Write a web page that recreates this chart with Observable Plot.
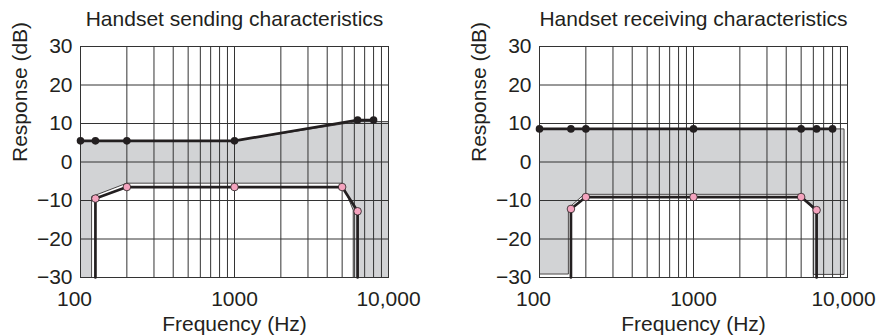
<!DOCTYPE html>
<html><head><meta charset="utf-8">
<script src="https://cdn.jsdelivr.net/npm/d3@7"></script>
<script src="https://cdn.jsdelivr.net/npm/@observablehq/plot@0.6"></script>
<style>
body{margin:0;background:#fff;}
#wrap{position:relative;width:877px;height:335px;overflow:hidden;background:#fff;}
#wrap svg{position:absolute;top:0;}
</style></head><body><div id="wrap"></div>
<script>
// ---- axis data ----
const yTicks = [-30, -20, -10, 0, 10, 20, 30];
const xTicks = [100, 1000, 10000];
const xTickLabels = ["100", "1000", "10,000"];
const gridFreqs = [100, 200, 300, 400, 500, 600, 700, 800, 900, 1000, 2000, 3000, 4000, 5000, 6000, 7000, 8000, 9000, 10000];

// ---- sending ----
const sendTitle = "Handset sending characteristics";
const sendUpperFreq = [100, 125, 200, 1000, 6300, 8000];
const sendUpperDb = [5.5, 5.5, 5.5, 5.5, 10.9, 10.9];
const sendLowerFreq = [125, 200, 1000, 5000, 6300];
const sendLowerDb = [-9.5, -6.5, -6.5, -6.5, -12.8];
const sendMaskFreq = [100, 1000, 6300, 10000, 10000, 5900, 5900, 5000, 200, 118, 118, 100];
const sendMaskDb = [5.5, 5.5, 10.5, 10.5, -30, -30, -12.5, -5.5, -5.5, -9, -30, -30];

// ---- receiving ----
const recvTitle = "Handset receiving characteristics";
const recvUpperFreq = [100, 160, 200, 1000, 5000, 6300, 8000];
const recvUpperDb = [8.6, 8.6, 8.6, 8.6, 8.6, 8.6, 8.6];
const recvLowerFreq = [160, 200, 1000, 5000, 6300];
const recvLowerDb = [-12.2, -9.1, -9.1, -9.1, -12.5];
const recvMaskFreq = [100, 9500, 9500, 6000, 6000, 5000, 195, 154, 154, 100];
const recvMaskDb = [8.6, 8.6, -29.2, -29.2, -12.2, -8.4, -8.4, -12, -29.1, -29.1];

const yFloor = -30;
const ink = "#231f20";
const gridColor = "#333333";
const fmtY = d => d < 0 ? "\u2212" + Math.abs(d) : String(d);
const fmtX = d => xTickLabels[xTicks.indexOf(d)];

function chart(o) {
  const up = o.upF.map((f, i) => ({f, db: o.upD[i]}));
  const lo = o.loF.map((f, i) => ({f, db: o.loD[i]}));
  const loPath = [{f: o.loF[0], db: yFloor}, ...lo, {f: o.loF[o.loF.length - 1], db: yFloor}];
  const mask = o.maskF.map((f, i) => ({f, db: o.maskD[i]}));
  return Plot.plot({
    width: o.width, height: 335,
    marginLeft: 80, marginRight: o.marginRight, marginTop: 46, marginBottom: 58,
    style: {fontFamily: "'Liberation Sans', Arial, sans-serif", fontSize: "21px", color: ink, background: "white", overflow: "visible"},
    x: {type: "log", domain: [100, 10000]},
    y: {domain: [-30, 30]},
    marks: [
      Plot.line(mask, {x: "f", y: "db", fill: "#d2d3d5", stroke: ink, strokeWidth: 0.8, curve: "linear"}),
      Plot.ruleX(gridFreqs, {stroke: gridColor, strokeWidth: 1}),
      Plot.ruleY(yTicks, {stroke: gridColor, strokeWidth: 1}),
      Plot.frame({stroke: gridColor}),
      Plot.line(up, {x: "f", y: "db", stroke: ink, strokeWidth: 2.7}),
      Plot.dot(up, {x: "f", y: "db", r: 3.8, fill: ink, stroke: "none"}),
      Plot.line(loPath, {x: "f", y: "db", stroke: ink, strokeWidth: 2.7}),
      Plot.dot(lo, {x: "f", y: "db", r: 3.8, fill: "#f4a3be", stroke: ink, strokeWidth: 0.8}),
      Plot.axisX({ticks: xTicks.slice(0, 1), tickFormat: fmtX, tickSize: 0, tickPadding: 14, dx: -6, label: null}),
      Plot.axisX({ticks: xTicks.slice(1, 2), tickFormat: fmtX, tickSize: 0, tickPadding: 14, label: null}),
      Plot.axisX({ticks: xTicks.slice(2), tickFormat: fmtX, tickSize: 0, tickPadding: 14, dx: o.lastDx, label: null}),
      Plot.axisY({ticks: yTicks, tickFormat: fmtY, tickSize: 0, tickPadding: 8, label: null}),
      Plot.text([o.title], {frameAnchor: "top", lineAnchor: "middle", dy: -27.7, fill: ink}),
      Plot.text(["Frequency (Hz)"], {frameAnchor: "bottom", lineAnchor: "middle", dy: 46.3, fill: ink}),
      Plot.text(["Response (dB)"], {frameAnchor: "left", lineAnchor: "middle", rotate: -90, dx: -60.2, fill: ink})
    ]
  });
}

const wrap = document.getElementById("wrap");
const left = chart({title: sendTitle, upF: sendUpperFreq, upD: sendUpperDb, loF: sendLowerFreq, loD: sendLowerDb,
  maskF: sendMaskFreq, maskD: sendMaskDb, width: 438, marginRight: 50, lastDx: 0});
left.style.left = "0px";
wrap.appendChild(left);
const right = chart({title: recvTitle, upF: recvUpperFreq, upD: recvUpperDb, loF: recvLowerFreq, loD: recvLowerDb,
  maskF: recvMaskFreq, maskD: recvMaskDb, width: 418, marginRight: 30, lastDx: -4});
right.style.left = "459px";
wrap.appendChild(right);
</script></body></html>
